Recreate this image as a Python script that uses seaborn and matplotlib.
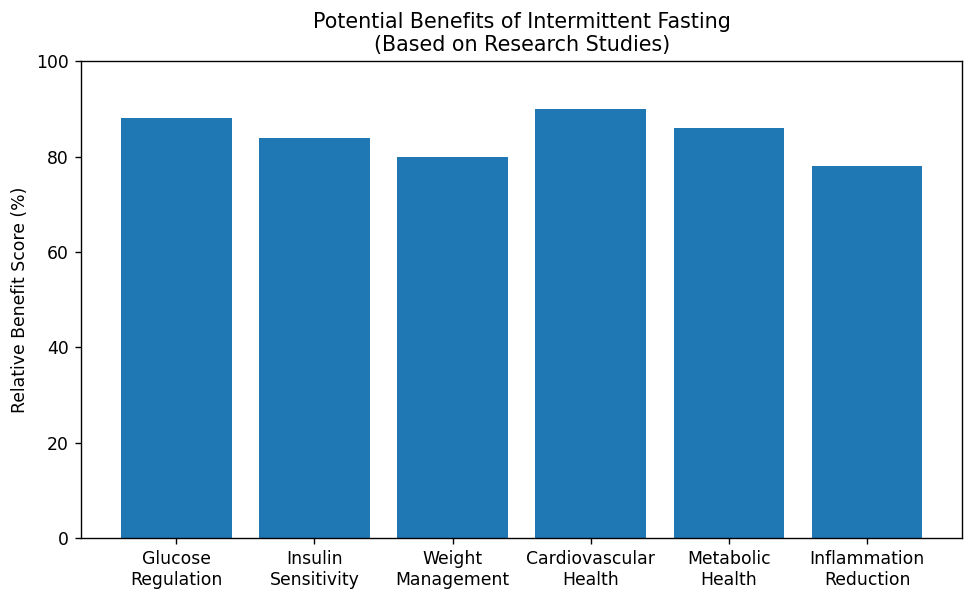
import matplotlib
matplotlib.use("Agg")
import matplotlib.pyplot as plt
import seaborn as sns
import pandas as pd

categories = ["Glucose\nRegulation", "Insulin\nSensitivity", "Weight\nManagement",
              "Cardiovascular\nHealth", "Metabolic\nHealth", "Inflammation\nReduction"]
scores = [88, 84, 80, 90, 86, 78]

df = pd.DataFrame({"benefit": categories, "score": scores})

DPI = 124
fig, ax = plt.subplots(figsize=(975 / DPI, 600 / DPI), dpi=DPI)
sns.barplot(data=df, x="benefit", y="score", color="#1f77b4", saturation=1,
            width=0.8, ax=ax)
ax.set_ylim(0, 100)
ax.set_xlabel("")
ax.set_ylabel("Relative Benefit Score (%)", fontsize=10)
ax.set_title("Potential Benefits of Intermittent Fasting\n(Based on Research Studies)", fontsize=12)
ax.tick_params(labelsize=10)
ax.set_xlim(-0.69, 5.69)
fig.subplots_adjust(left=0.083, right=0.987, top=0.898, bottom=0.103)
fig.savefig("out.png", dpi=DPI)
